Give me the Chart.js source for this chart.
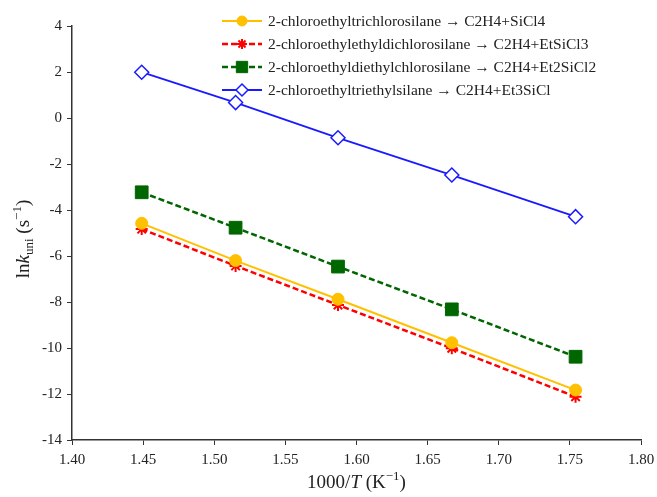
<!DOCTYPE html>
<html>
<head>
<meta charset="UTF-8">
<title>ln k vs 1000/T</title>
<script src="https://cdn.jsdelivr.net/npm/chart.js"></script>
<style>
    body { margin: 0; background: #fff; }
    #wrap { width: 657px; height: 497px; position: relative; }
</style>
</head>
<body>
<div id="wrap">
    <canvas id="grafico"></canvas>
</div>
<script>
// dados
const invT = [1.449, 1.515, 1.587, 1.667, 1.754];
const trichloro = [-4.58, -6.20, -7.88, -9.77, -11.83];
const ethyldichloro = [-4.83, -6.43, -8.13, -10.01, -12.12];
const diethylchloro = [-3.23, -4.77, -6.46, -8.32, -10.38];
const triethyl = [1.99, 0.67, -0.86, -2.48, -4.29];

const seriesLabels = [
    '2-chloroethyltrichlorosilane \u2192 C2H4+SiCl4',
    '2-chloroethylethyldichlorosilane \u2192 C2H4+EtSiCl3',
    '2-chloroethyldiethylchlorosilane \u2192 C2H4+Et2SiCl2',
    '2-chloroethyltriethylsilane \u2192 C2H4+Et3SiCl'
];

const xTicksMin = 1.40, xTicksMax = 1.80, xStep = 0.05;
const yTicksMin = -14, yTicksMax = 4, yStep = 2;

const serif = '"Liberation Serif", "Times New Roman", serif';

function pts(ys) {
    return invT.map((x, i) => ({ x: x, y: ys[i] }));
}

const datasets = [
    {
        label: seriesLabels[0],
        data: pts(trichloro),
        borderColor: '#FFC000',
        backgroundColor: '#FFC000',
        borderWidth: 2,
        pointStyle: 'circle',
        pointRadius: 6,
        pointBorderWidth: 1
    },
    {
        label: seriesLabels[1],
        data: pts(ethyldichloro),
        borderColor: '#FF0000',
        backgroundColor: '#FF0000',
        borderWidth: 2.5,
        borderDash: [6, 3],
        pointStyle: 'star',
        pointRadius: 6,
        pointBorderWidth: 2
    },
    {
        label: seriesLabels[2],
        data: pts(diethylchloro),
        borderColor: '#006600',
        backgroundColor: '#006600',
        borderWidth: 2.5,
        borderDash: [6, 3],
        pointStyle: 'rect',
        pointRadius: 9,
        pointBorderWidth: 1
    },
    {
        label: seriesLabels[3],
        data: pts(triethyl),
        borderColor: '#1A1AFF',
        backgroundColor: '#FFFFFF',
        borderWidth: 1.8,
        pointStyle: 'rectRot',
        pointRadius: 7,
        pointBorderWidth: 1.5
    }
];

// legenda desenhada à mão (coluna dentro da área do gráfico)
const legendaPlugin = {
    id: 'legendaColuna',
    afterDraw(chart) {
        const ctx = chart.ctx;
        const ca = chart.chartArea;
        const x0 = ca.left + 150, y0 = ca.top - 5, dy = 23;
        ctx.save();
        chart.data.datasets.forEach((ds, i) => {
            const y = y0 + i * dy;
            ctx.strokeStyle = ds.borderColor;
            ctx.lineWidth = ds.borderWidth;
            ctx.setLineDash(ds.borderDash || []);
            ctx.beginPath();
            ctx.moveTo(x0, y);
            ctx.lineTo(x0 + 40, y);
            ctx.stroke();
            ctx.setLineDash([]);
            ctx.fillStyle = ds.backgroundColor;
            ctx.strokeStyle = ds.borderColor;
            ctx.lineWidth = ds.pointBorderWidth;
            Chart.helpers.drawPoint(ctx, {
                pointStyle: ds.pointStyle,
                radius: ds.pointRadius - 1,
                borderWidth: ds.pointBorderWidth,
                rotation: 0
            }, x0 + 20, y);
            ctx.fillStyle = '#222';
            ctx.font = '15.5px ' + serif;
            ctx.textBaseline = 'middle';
            ctx.textAlign = 'left';
            ctx.fillText(ds.label, x0 + 46, y + 1);
        });
        ctx.restore();
    }
};

// títulos dos eixos com itálico, subscrito e sobrescrito
function textoRico(ctx, partes, cx, cy) {
    let total = 0;
    partes.forEach(p => { ctx.font = p.font; total += ctx.measureText(p.t).width; });
    let x = cx - total / 2;
    partes.forEach(p => {
        ctx.font = p.font;
        ctx.fillText(p.t, x, cy + (p.dy || 0));
        x += ctx.measureText(p.t).width;
    });
}

const titulosPlugin = {
    id: 'titulosEixos',
    afterDraw(chart) {
        const ctx = chart.ctx;
        const ca = chart.chartArea;
        const f = '19px ' + serif, fi = 'italic 19px ' + serif, fs = '13px ' + serif;
        ctx.save();
        ctx.fillStyle = '#222';
        ctx.textBaseline = 'middle';
        ctx.textAlign = 'left';
        textoRico(ctx, [
            { t: '1000/', font: f },
            { t: 'T', font: fi },
            { t: ' (K', font: f },
            { t: '\u22121', font: fs, dy: -6 },
            { t: ')', font: f }
        ], (ca.left + ca.right) / 2, 483);
        ctx.translate(24, (ca.top + ca.bottom) / 2 + 6);
        ctx.rotate(-Math.PI / 2);
        textoRico(ctx, [
            { t: 'ln', font: f },
            { t: 'k', font: fi },
            { t: 'uni', font: fs, dy: 6 },
            { t: ' (s', font: f },
            { t: '\u22121', font: fs, dy: -6 },
            { t: ')', font: f }
        ], 0, 0);
        ctx.restore();
    }
};

const config = {
    type: 'scatter',
    data: { datasets: datasets },
    options: {
        responsive: true,
        maintainAspectRatio: false,
        animation: false,
        showLine: true,
        layout: { padding: { top: 26, right: 16, left: 0, bottom: 0 } },
        plugins: {
            legend: { display: false },
            tooltip: { enabled: false }
        },
        scales: {
            x: {
                type: 'linear',
                min: xTicksMin,
                max: xTicksMax,
                afterFit(scale) {
                    scale.height = 57;
                    scale.paddingRight = 0;
                    scale.paddingLeft = 0;
                },
                ticks: {
                    stepSize: xStep,
                    color: '#222',
                    padding: 6,
                    font: { family: serif, size: 15 },
                    callback: v => v.toFixed(2)
                },
                grid: { drawOnChartArea: false, color: '#333', tickLength: 5 },
                border: { color: '#333', width: 1.5 }
            },
            y: {
                min: yTicksMin,
                max: yTicksMax,
                afterFit(scale) { scale.width = 72; },
                ticks: {
                    stepSize: yStep,
                    color: '#222',
                    padding: 5,
                    font: { family: serif, size: 15 }
                },
                grid: { drawOnChartArea: false, color: '#333', tickLength: 5 },
                border: { color: '#333', width: 1.5 }
            }
        }
    },
    plugins: [legendaPlugin, titulosPlugin]
};

const grafico = new Chart(document.getElementById('grafico'), config);
</script>
</body>
</html>
